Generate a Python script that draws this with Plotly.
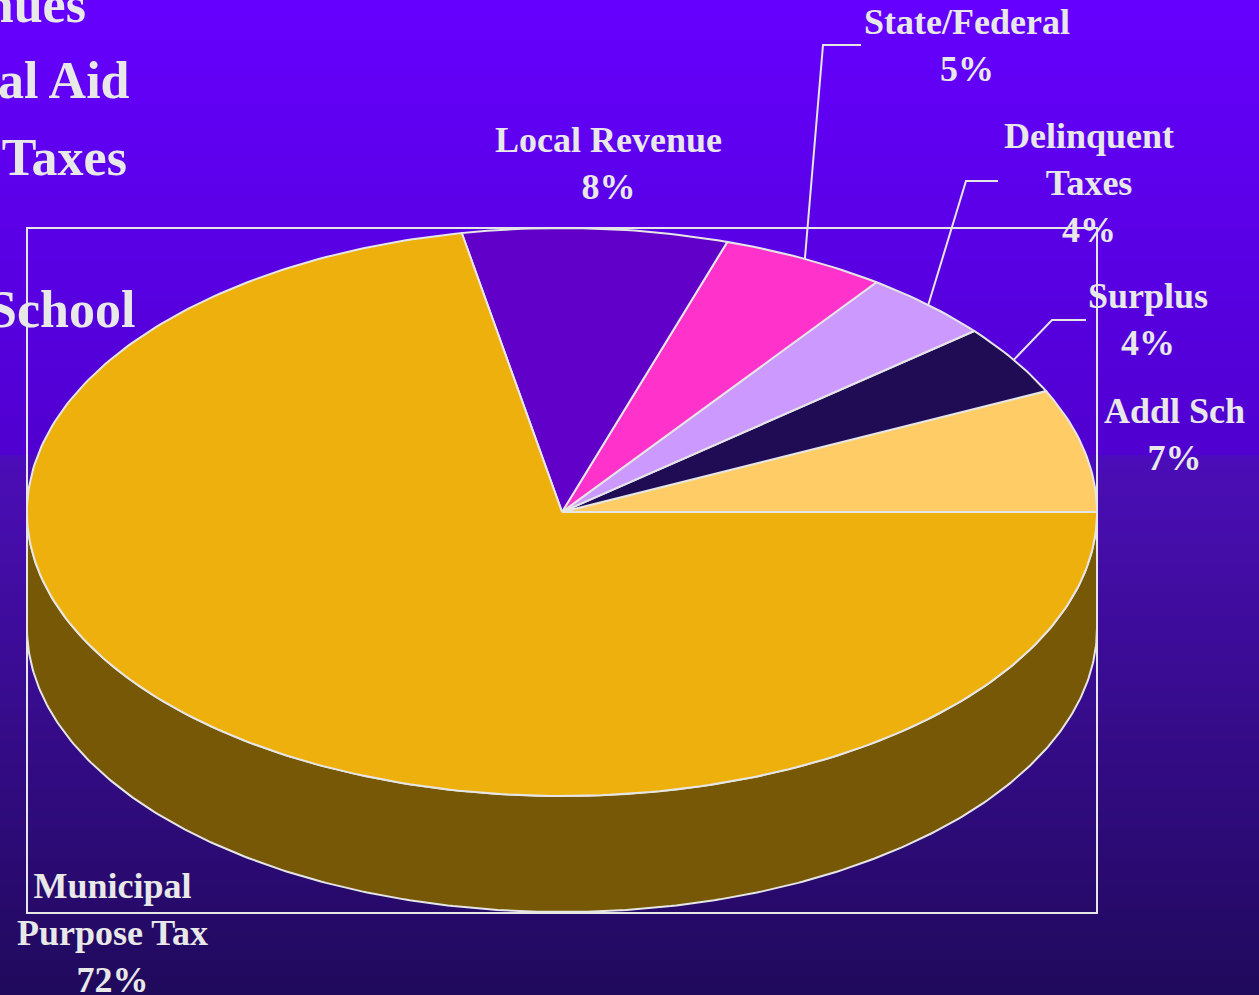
import numpy as np
import plotly.graph_objects as go

# ---------------- data ----------------
categories = ["Addl Sch", "Surplus", "Delinquent Taxes", "State/Federal",
              "Local Revenue", "Municipal Purpose Tax"]
shares = [7, 4, 4, 5, 8, 72]
label_names = ["Addl Sch", "Surplus", "Delinquent<br>Taxes", "State/Federal",
               "Local Revenue", "Municipal<br>Purpose Tax"]
slide_lines = ["Revenues", "State/Federal Aid", "Delinquent Taxes", "Additional School"]

# ---------------- styles / layout ----------------
top_colors = ["#FFCC66", "#200C55", "#CC99FF", "#FF33CC", "#6000C8", "#EDB00C"]
W, H = 1259, 995
CX, CY, RX, RY, DEPTH = 562, 512, 535, 284, 116
EDGE = "#E6E6E6"
TXT = "#E8E8E8"
FONT = "Liberation Serif"

label_pos = [(1174, 434), (1148, 319), (1089, 183), (967, 45), (608, 163), (112, 933)]
# leader lines: (label-side start, elbow) ; end point is computed on the pie edge
leaders = {1: [(1086, 320), (1052, 320)],
           2: [(998, 181), (966, 181)],
           3: [(861, 45), (823, 45)]}
slide_pos = [(88, 4), (132, 80), (129, 157), (137, 309)]


def darker(hexc, f=0.5):
    h = hexc.lstrip("#")
    r, g, b = (int(h[i:i + 2], 16) for i in (0, 2, 4))
    return "rgb(%d,%d,%d)" % (r * f, g * f, b * f)


def ell(t):
    return CX + RX * np.cos(t), CY - RY * np.sin(t)


fig = go.Figure()

# slice angles (counter-clockwise from 3 o'clock)
total = float(sum(shares))
bounds = np.concatenate([[0], np.cumsum(shares)]) / total * 2 * np.pi

# side walls (front half only: angles pi..2pi)
for i in range(len(shares)):
    a0, a1 = max(bounds[i], np.pi), min(bounds[i + 1], 2 * np.pi)
    if a1 <= a0:
        continue
    t = np.linspace(a0, a1, 300)
    xs, ys = ell(t)
    px = np.concatenate([xs, xs[::-1], xs[:1]])
    py = np.concatenate([ys, ys[::-1] + DEPTH, ys[:1]])
    fig.add_trace(go.Scatter(x=px, y=py, mode="lines", fill="toself",
                             fillcolor=darker(top_colors[i]),
                             line=dict(color=EDGE, width=2),
                             hoverinfo="skip", showlegend=False))

# top faces
for i in range(len(shares)):
    t = np.linspace(bounds[i], bounds[i + 1], max(int(shares[i] * 4), 20))
    xs, ys = ell(t)
    px = np.concatenate([[CX], xs, [CX]])
    py = np.concatenate([[CY], ys, [CY]])
    fig.add_trace(go.Scatter(x=px, y=py, mode="lines", fill="toself",
                             fillcolor=top_colors[i],
                             line=dict(color=EDGE, width=2),
                             name=categories[i],
                             hoverinfo="skip", showlegend=False))

shapes = []
# background gradient
stops_y = [0, 455, 458, 995]
stops_c = [(102, 0, 255), (80, 0, 208), (76, 14, 184), (32, 10, 92)]
step = 5
for y0 in range(0, H, step):
    ym = y0 + step / 2
    c = [np.interp(ym, stops_y, [s[k] for s in stops_c]) for k in range(3)]
    shapes.append(dict(type="rect", xref="paper", yref="y", x0=0, x1=1,
                       y0=y0, y1=y0 + step + 1, line=dict(width=0),
                       fillcolor="rgb(%d,%d,%d)" % tuple(int(v) for v in c),
                       layer="below"))
# plot-area frame
shapes.append(dict(type="rect", xref="x", yref="y", x0=27, x1=1097, y0=228, y1=913,
                   line=dict(color=EDGE, width=2), layer="below"))
# leader lines
for i, pts in leaders.items():
    mid = (bounds[i] + bounds[i + 1]) / 2
    ex, ey = ell(mid)
    path = "M %f %f L %f %f L %f %f" % (pts[0][0], pts[0][1], pts[1][0], pts[1][1], ex, ey)
    shapes.append(dict(type="path", xref="x", yref="y", path=path,
                       line=dict(color=EDGE, width=2), layer="above"))

annotations = []
for i in range(len(shares)):
    x, y = label_pos[i]
    annotations.append(dict(x=x, y=y, xref="x", yref="y", showarrow=False,
                            text="%s<br>%d%%" % (label_names[i], shares[i]),
                            align="center", xanchor="center", yanchor="middle",
                            font=dict(family=FONT, size=36, color=TXT, weight="bold")))
for s, (x, y) in zip(slide_lines, slide_pos):
    annotations.append(dict(x=x, y=y, xref="x", yref="y", showarrow=False, text=s,
                            xanchor="right", yanchor="middle",
                            font=dict(family=FONT, size=52, color=TXT, weight="bold")))

fig.update_layout(
    width=W, height=H, margin=dict(l=0, r=0, t=0, b=0),
    paper_bgcolor="#200A5C", plot_bgcolor="rgba(0,0,0,0)",
    xaxis=dict(range=[0, W], visible=False, fixedrange=True),
    yaxis=dict(range=[H, 0], visible=False, fixedrange=True),
    shapes=shapes, annotations=annotations, showlegend=False,
)

fig.write_html("out.html", config={"displayModeBar": False},
               post_script="document.body.style.margin='0px';document.body.style.overflow='hidden';")
